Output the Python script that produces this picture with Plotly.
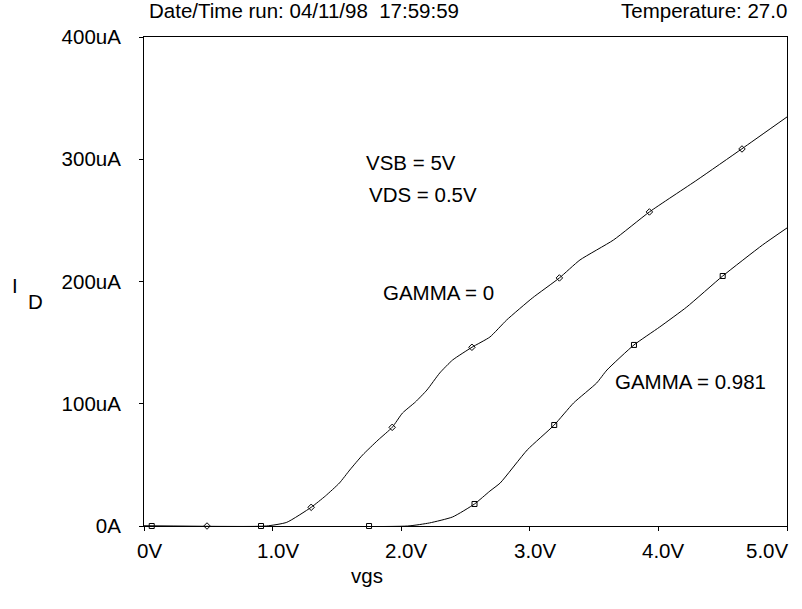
import plotly.graph_objects as go

# GAMMA = 0 curve (V, uA)
g0_v = [0.0, 0.95, 1.11, 1.30, 1.41, 1.52, 1.60, 1.70, 1.82, 1.93, 2.01, 2.11, 2.20, 2.30, 2.40,
        2.55, 2.69, 2.82, 3.02, 3.23, 3.39, 3.65, 3.93, 4.30, 4.65, 5.00]
g0_i = [0.0, 0.0, 3.0, 15.3, 24.5, 35.2, 45.8, 58.1, 70.3, 80.7, 92.4, 101.4, 111.2, 125.2, 135.8,
        146.2, 154.6, 168.5, 186.5, 202.9, 217.6, 233.9, 256.9, 283.0, 308.6, 334.6]
g0_mark_v = [0.49, 1.30, 1.93, 2.55, 3.23, 3.93, 4.65]
g0_mark_i = [0.0, 15.3, 80.7, 146.2, 202.9, 256.9, 308.4]

# GAMMA = 0.981 curve
g1_v = [0.0, 2.05, 2.22, 2.40, 2.57, 2.69, 2.77, 2.98, 3.19, 3.34, 3.52, 3.60, 3.81, 4.01, 4.22,
        4.50, 4.81, 5.00]
g1_i = [0.0, 0.0, 2.5, 7.4, 18.0, 28.6, 35.2, 62.2, 82.6, 100.6, 117.0, 127.6, 148.1, 162.8, 179.1,
        204.5, 229.9, 243.8]
g1_mark_v = [0.06, 0.91, 1.75, 2.57, 3.19, 3.81, 4.50]
g1_mark_i = [0.0, 0.0, 0.0, 18.0, 82.6, 148.1, 204.5]

x_ticks = [0, 1, 2, 3, 4, 5]
x_labels = ["0V", "1.0V", "2.0V", "3.0V", "4.0V", "5.0V"]
y_ticks = [0, 100, 200, 300, 400]
y_labels = ["0A", "100uA", "200uA", "300uA", "400uA"]

FONT = "Liberation Sans, Arial, sans-serif"
FS = 20.5

fig = go.Figure()
fig.add_trace(go.Scatter(x=g0_v, y=g0_i, mode="lines",
                         line=dict(color="black", width=1, shape="spline", smoothing=0.5),
                         showlegend=False, hoverinfo="skip"))
fig.add_trace(go.Scatter(x=g1_v, y=g1_i, mode="lines",
                         line=dict(color="black", width=1, shape="spline", smoothing=0.5),
                         showlegend=False, hoverinfo="skip"))
fig.add_trace(go.Scatter(x=g0_mark_v, y=g0_mark_i, mode="markers",
                         marker=dict(symbol="diamond-open", size=5, color="black", line=dict(width=1)),
                         showlegend=False, cliponaxis=False))
fig.add_trace(go.Scatter(x=g1_mark_v, y=g1_mark_i, mode="markers",
                         marker=dict(symbol="square-open", size=5, color="black", line=dict(width=1)),
                         showlegend=False, cliponaxis=False))

annotations = []
for v, lab in zip(x_ticks, x_labels):
    last = (v == x_ticks[-1])
    annotations.append(dict(x=v, y=0, xref="x", yref="y", text=lab, showarrow=False,
                            xanchor="right" if last else "center", yanchor="top",
                            xshift=3 if last else 5, yshift=-11,
                            font=dict(family=FONT, size=FS, color="black")))

texts = [
    ("VSB = 5V", 1.73, 297),
    ("VDS = 0.5V", 1.75, 271),
    ("GAMMA = 0", 1.86, 190.6),
    ("GAMMA = 0.981", 3.66, 118.6),
]
for t, x, y in texts:
    annotations.append(dict(x=x, y=y, xref="x", yref="y", text=t, showarrow=False,
                            xanchor="left", yanchor="middle", xshift=-2,
                            font=dict(family=FONT, size=FS, color="black")))

W, H = 802, 609
L, R, T, B = 144, 15, 37, 83

def px(xp):
    return (xp - L) / (W - L - R)

def py(yp):
    return (H - B - yp) / (H - T - B)

annotations += [
    dict(x=px(147), y=py(11), xref="paper", yref="paper", text="Date/Time run: 04/11/98  17:59:59",
         showarrow=False, xanchor="left", yanchor="middle", font=dict(family=FONT, size=FS, color="black")),
    dict(x=px(789), y=py(11), xref="paper", yref="paper", text="Temperature: 27.0",
         showarrow=False, xanchor="right", yanchor="middle", font=dict(family=FONT, size=FS, color="black")),
    dict(x=px(367), y=py(575), xref="paper", yref="paper", text="vgs",
         showarrow=False, xanchor="center", yanchor="middle", font=dict(family=FONT, size=FS, color="black")),
    dict(x=px(15), y=py(285), xref="paper", yref="paper", text="I",
         showarrow=False, xanchor="center", yanchor="middle", font=dict(family=FONT, size=FS, color="black")),
    dict(x=px(35), y=py(301), xref="paper", yref="paper", text="D",
         showarrow=False, xanchor="center", yanchor="middle", font=dict(family=FONT, size=FS, color="black")),
]

fig.update_layout(
    width=W, height=H,
    margin=dict(l=L, r=R, t=T, b=B),
    paper_bgcolor="white", plot_bgcolor="white",
    annotations=annotations,
    font=dict(family=FONT, size=FS, color="black"),
)
fig.update_xaxes(range=[0, 5], tickvals=x_ticks, showticklabels=False, ticks="outside", ticklen=4,
                 tickcolor="black", showline=True, linecolor="black", linewidth=1, mirror=True,
                 showgrid=False, zeroline=False)
fig.update_yaxes(range=[0, 400], tickvals=y_ticks, ticktext=y_labels, ticks="outside", ticklen=4,
                 tickcolor="black", showline=True, linecolor="black", linewidth=1, mirror=True,
                 showgrid=False, zeroline=False, ticklabelstandoff=14,
                 tickfont=dict(family=FONT, size=FS, color="black"))

fig.write_html("out.html")
